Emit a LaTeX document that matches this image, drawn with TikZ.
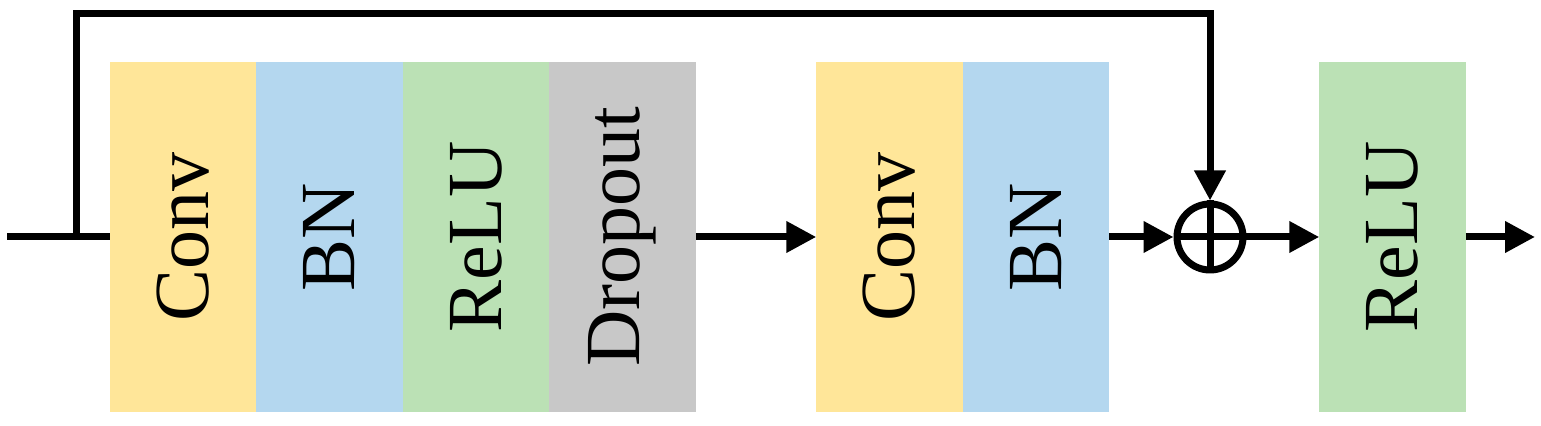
\documentclass[tikz,border=0pt]{standalone}
\usepackage{fontspec}
\newfontfamily\layerfont{Liberation Serif}
\usepackage{tikz}
\usetikzlibrary{arrows.meta}
\usetikzlibrary{positioning}
\tikzset{>={Triangle[width=15pt,length=15pt]}}
\definecolor{convyellow}{HTML}{FFE699}
\definecolor{bnblue}{HTML}{B4D7EF}
\definecolor{relugreen}{HTML}{BBE1B5}
\definecolor{dropgray}{HTML}{C8C8C8}
\tikzset{
  layer/.style={minimum width=73.25pt, minimum height=175pt, inner sep=0pt,
    outer sep=0pt, font=\layerfont\fontsize{39}{46}\selectfont},
  flow/.style={line width=3.5pt},
}
\newcommand{\ROT}[1]{\rotatebox{90}{#1}}

\begin{document}
\begin{tikzpicture}[x=0.5pt,y=0.5pt]

  \useasboundingbox (0,0) rectangle (1541,426);

  %% first branch
  \node[layer, fill=convyellow] (conv1) at (183,189) {\ROT{Conv}};
  \node[layer, fill=bnblue, right=0pt of conv1] (bn1) {\ROT{BN}};
  \node[layer, fill=relugreen, right=0pt of bn1] (relu1) {\ROT{ReLU}};
  \node[layer, fill=dropgray, right=0pt of relu1] (drop) {\ROT{Dropout}};

  %% second branch
  \node[layer, fill=convyellow] (conv2) at (889.5,189) {\ROT{Conv}};
  \node[layer, fill=bnblue, right=0pt of conv2] (bn2) {\ROT{BN}};

  %% sum and output
  \node[flow, draw, circle, inner sep=0pt, minimum size=33pt] (sum) at (1210,189) {};
  \draw[flow] (sum.north) -- (sum.south);
  \draw[flow] (sum.west) -- (sum.east);
  \node[layer, fill=relugreen] (relu2) at (1392.5,189) {\ROT{ReLU}};

  \coordinate (in) at (7,189);
  \coordinate (split) at (76,189);
  \coordinate (top) at (76,412);
  \coordinate (out) at (1535,189);

  \draw[flow] (in) -- (conv1.west);
  \draw[flow, ->] (split) -- (top) -| (sum.north); %% skip
  \draw[flow, ->] (drop.east) -- (conv2.west);
  \draw[flow, ->] (bn2.east) -- (sum.west);
  \draw[flow, ->] (sum.east) -- (relu2.west);
  \draw[flow, ->] (relu2.east) -- (out);

\end{tikzpicture}
\end{document}
